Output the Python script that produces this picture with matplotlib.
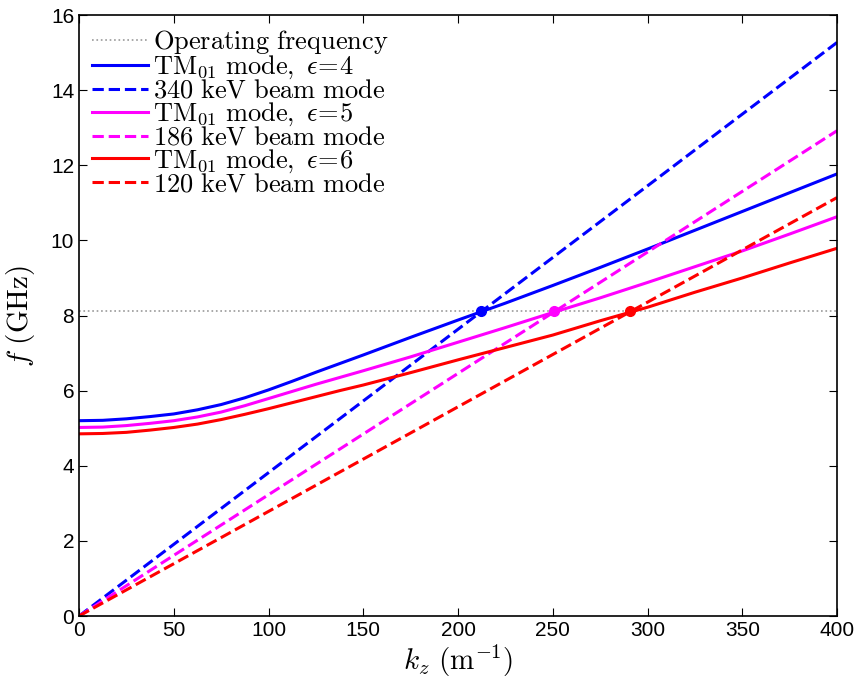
import matplotlib
matplotlib.use('Agg')
import matplotlib.pyplot as plt

plt.rcParams['mathtext.fontset'] = 'cm'
plt.rcParams['font.family'] = ['Liberation Sans Narrow', 'Liberation Sans', 'DejaVu Sans']

# data
k = [0, 12.5, 25, 37.5, 50, 62.5, 75, 87.5, 100, 112.5, 125, 137.5, 150,
     175, 200, 225, 250, 275, 300, 325, 350, 375, 400]
tm_eps4 = [5.20, 5.21, 5.25, 5.31, 5.38, 5.49, 5.63, 5.81, 6.02, 6.25, 6.49, 6.72, 6.95,
           7.42, 7.88, 8.33, 8.80, 9.28, 9.77, 10.27, 10.77, 11.27, 11.77]
tm_eps5 = [5.02, 5.03, 5.07, 5.13, 5.20, 5.30, 5.43, 5.60, 5.79, 5.98, 6.17, 6.35, 6.53,
           6.90, 7.29, 7.68, 8.08, 8.47, 8.88, 9.30, 9.72, 10.17, 10.63]
tm_eps6 = [4.85, 4.86, 4.89, 4.95, 5.02, 5.11, 5.23, 5.37, 5.52, 5.68, 5.84, 6.00, 6.15,
           6.48, 6.82, 7.15, 7.48, 7.86, 8.22, 8.62, 9.00, 9.40, 9.79]

k_beam = [0, 400]
beam_340 = [0, 15.27]
beam_186 = [0, 12.92]
beam_120 = [0, 11.14]

f_op = 8.11
k_cross = [212, 250.8, 290.8]

colors = ['#0000ff', '#ff00ff', '#ff0000']

fig = plt.figure(figsize=(8.6, 6.86), dpi=100)
ax = fig.add_axes([0.0919, 0.102, 0.8814, 0.8761])

ax.plot([0, 400], [f_op, f_op], ':', color='#999999', lw=1.2,
        label=r'$\mathrm{Operating\ frequency}$')
ax.plot(k, tm_eps4, '-', color=colors[0], lw=2.2, label=r'$\mathrm{TM}_{01}\ \mathrm{mode,}\ \epsilon\!=\!4$')
ax.plot(k_beam, beam_340, '--', color=colors[0], lw=2.2, label=r'$\mathrm{340\ keV\ beam\ mode}$')
ax.plot(k, tm_eps5, '-', color=colors[1], lw=2.2, label=r'$\mathrm{TM}_{01}\ \mathrm{mode,}\ \epsilon\!=\!5$')
ax.plot(k_beam, beam_186, '--', color=colors[1], lw=2.2, label=r'$\mathrm{186\ keV\ beam\ mode}$')
ax.plot(k, tm_eps6, '-', color=colors[2], lw=2.2, label=r'$\mathrm{TM}_{01}\ \mathrm{mode,}\ \epsilon\!=\!6$')
ax.plot(k_beam, beam_120, '--', color=colors[2], lw=2.2, label=r'$\mathrm{120\ keV\ beam\ mode}$')

for kc, c in zip(k_cross, colors):
    ax.plot(kc, f_op, 'o', color=c, ms=7, zorder=5)

ax.set_xlim(0, 400)
ax.set_ylim(0, 16)
ax.set_xticks(range(0, 401, 50))
ax.set_yticks(range(0, 17, 2))
ax.tick_params(direction='in', top=True, right=True, labelsize=15, length=6, width=0.8)
for s in ax.spines.values():
    s.set_linewidth(1.2)

ax.set_xlabel(r'$k_z\ \mathrm{(m^{-1})}$', fontsize=21, labelpad=2)
ax.set_ylabel(r'$f\ \mathrm{(GHz)}$', fontsize=21, labelpad=10)

ax.legend(loc='upper left', frameon=False, fontsize=19, handlelength=2.1,
          handletextpad=0.2, labelspacing=-0.09, borderaxespad=0.1,
          bbox_to_anchor=(0.0, 1.0))

fig.savefig('out.png', dpi=100)
